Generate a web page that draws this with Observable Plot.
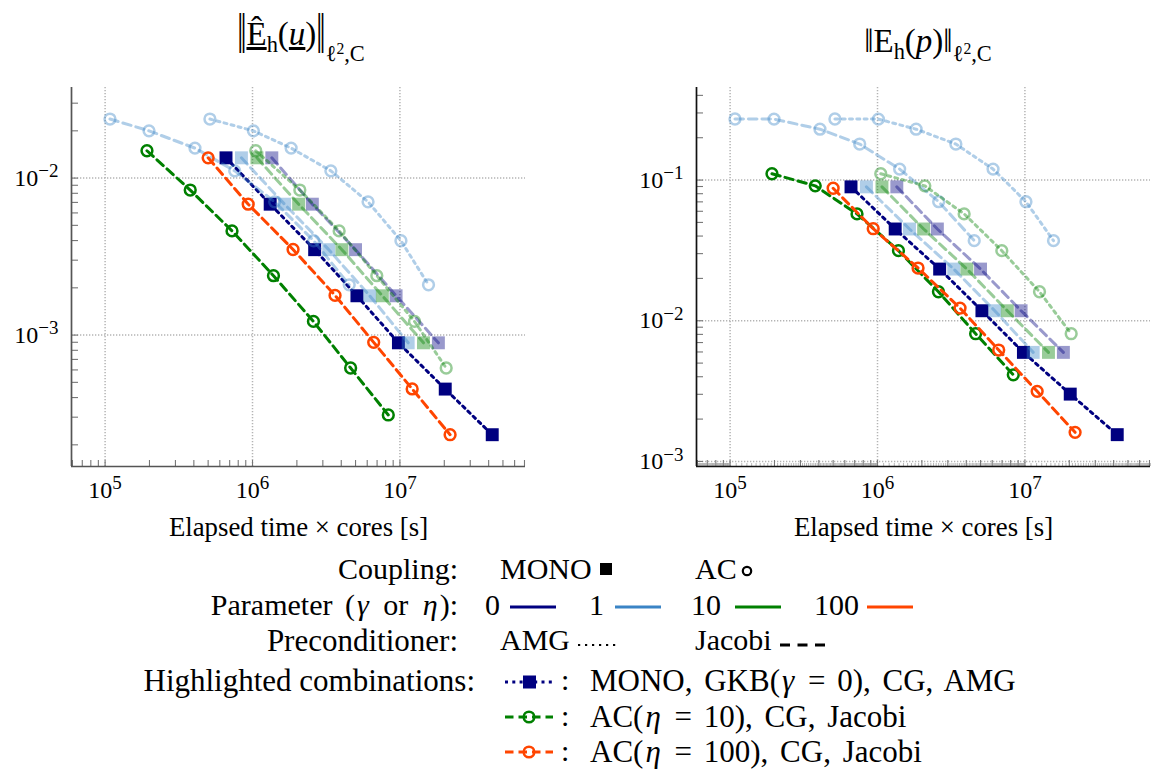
<!DOCTYPE html>
<html><head><meta charset="utf-8">
<script src="https://cdn.jsdelivr.net/npm/d3@7"></script>
<script src="https://cdn.jsdelivr.net/npm/@observablehq/plot@0.6"></script>
<style>
html,body{margin:0;padding:0;background:#fff;}
#root{position:relative;width:1157px;height:771px;overflow:hidden;font-family:"Liberation Serif",serif;color:#000;}
.panel{position:absolute;top:0;}
.title{position:absolute;font-size:33px;white-space:nowrap;line-height:1;transform:translateX(-50%);}
.lg{position:absolute;font-size:30px;white-space:nowrap;line-height:1;}
.lg.hl{font-size:31px;word-spacing:4px;}
.lg i{padding:0 2px;}
.ico{position:absolute;overflow:visible;}
.sb{font-size:0.68em;vertical-align:-0.32em;}
.sp{font-size:0.7em;vertical-align:0.45em;}
</style></head><body><div id="root"></div>
<script>
// ---------- data (elapsed time x cores [s] and errors per refinement level) ----------
const tMonoG0Amg = [6.61e5, 1.318e6, 2.64e6, 5.11e6, 9.77e6, 2.03e7, 4.23e7];
const tMonoG1Jac = [8.41e5, 1.648e6, 3.29e6, 6.24e6, 1.138e7];
const tMonoG10Jac = [1.072e6, 2.056e6, 4.04e6, 7.60e6, 1.445e7];
const tMonoG0Jac = [1.352e6, 2.547e6, 5.00e6, 9.42e6, 1.824e7];
const tAcE1Amg = [5.14e5, 1.014e6, 1.828e6, 3.40e6, 6.08e6, 1.016e7, 1.563e7];
const tAcE1Jac = [1.079e5, 1.986e5, 4.07e5, 7.57e5, 1.413e6, 2.60e6, 4.53e6];
const tAcE10Amg = [1.052e6, 2.094e6, 3.87e6, 6.97e6, 1.256e7, 2.06e7];
const tAcE10Jac = [1.923e5, 3.78e5, 7.26e5, 1.387e6, 2.59e6, 4.63e6, 8.34e6];
const tAcE100Jac = [5.00e5, 9.35e5, 1.884e6, 3.63e6, 6.64e6, 1.211e7, 2.19e7];

// velocity error ||E_h(u)||
const eUMono = [0.01346, 0.00682, 0.00350, 0.00178, 0.000893, 0.000453, 0.000232];
const eUAcE1 = [0.02377, 0.0200, 0.01552, 0.01112, 0.00706, 0.00399, 0.00209];
const eUAcE10 = [0.01493, 0.00839, 0.00461, 0.00239, 0.001222, 0.000617, 0.000310];
const eUAcE100 = [0.01346, 0.00682, 0.00351, 0.00179, 0.000899, 0.000454, 0.000232];
// pressure error ||E_h(p)||
const ePMono = [0.0895, 0.0449, 0.0233, 0.01178, 0.00596, 0.00301, 0.00155];
const ePAcE1 = [0.2716, 0.2712, 0.230, 0.1803, 0.1197, 0.0702, 0.0371];
const ePAcE10 = [0.1109, 0.0910, 0.0575, 0.0315, 0.01607, 0.00809, 0.00413];
const ePAcE100 = [0.0875, 0.0451, 0.0237, 0.0123, 0.00619, 0.00315, 0.00161];

const xTickValues = [1e5, 1e6, 1e7];
const yTickLeft = [1e-3, 1e-2];
const yTickRight = [1e-3, 1e-2, 1e-1];
const paramValues = [0, 1, 10, 100];
const paramLabels = ["0", "1", "10", "100"];

// ---------- styling tables ----------
const colors = {0: "#000080", 1: "#3a84c5", 10: "#008000", 100: "#ff4500"};
const FADE = 0.4;
const series = [
  {coupling: "MONO", param: 0, precond: "AMG", hl: true, t: tMonoG0Amg, eu: eUMono, ep: ePMono},
  {coupling: "MONO", param: 1, precond: "Jacobi", hl: false, t: tMonoG1Jac, eu: eUMono, ep: ePMono},
  {coupling: "MONO", param: 10, precond: "Jacobi", hl: false, t: tMonoG10Jac, eu: eUMono, ep: ePMono},
  {coupling: "MONO", param: 0, precond: "Jacobi", hl: false, t: tMonoG0Jac, eu: eUMono, ep: ePMono},
  {coupling: "AC", param: 1, precond: "AMG", hl: false, t: tAcE1Amg, eu: eUAcE1, ep: ePAcE1},
  {coupling: "AC", param: 1, precond: "Jacobi", hl: false, t: tAcE1Jac, eu: eUAcE1, ep: ePAcE1},
  {coupling: "AC", param: 10, precond: "AMG", hl: false, t: tAcE10Amg, eu: eUAcE10, ep: ePAcE10},
  {coupling: "AC", param: 10, precond: "Jacobi", hl: true, t: tAcE10Jac, eu: eUAcE10, ep: ePAcE10},
  {coupling: "AC", param: 100, precond: "Jacobi", hl: true, t: tAcE100Jac, eu: eUAcE100, ep: ePAcE100}
];

const ns = "http://www.w3.org/2000/svg";
const xDom = [Math.pow(10, 4.772), Math.pow(10, 7.852)];
const W = 454, H = 379, MT = 87, ML = 71, MB = 85;
const DOTTED = "3,4.3", DASHED = "8.5,5";

function powLabel(d) { return "10^" + Math.round(Math.log10(d)); }

function minorTicks(dom, steps) {
  const out = [];
  const lo = Math.floor(Math.log10(dom[0])), hi = Math.ceil(Math.log10(dom[1]));
  for (let d = lo; d <= hi; d++) for (const k of steps) {
    const v = k * Math.pow(10, d);
    if (v >= dom[0] && v <= dom[1]) out.push(v);
  }
  return out;
}

function panel({errKey, yDom, yTicks, spine, fine, mr}) {
  const marks = [];
  const gridStyle = {stroke: "#b4b4b4", strokeWidth: 1.5, strokeDasharray: "1.3,1.7"};
  marks.push(Plot.ruleX(xTickValues, gridStyle));
  marks.push(Plot.ruleY(yTicks.filter(v => v > yDom[0] * 1.02), gridStyle));
  // ticks (inward)
  const tickStyle = {stroke: "#777", strokeWidth: 1.1};
  marks.push(Plot.ruleX(minorTicks(xDom, [1,2,3,4,5,6,7,8,9]), {...tickStyle, insetTop: H - 6}));
  if (fine) {
    const fs = d3.range(11, 100).filter(k => k % 10 !== 0).map(k => k / 10);
    marks.push(Plot.ruleX(minorTicks(xDom, fs), {stroke: "#999", strokeWidth: 0.7, insetTop: H - 3}));
  }
  marks.push(Plot.ruleY(minorTicks(yDom, [1,2,3,4,5,6,7,8,9]), {...tickStyle, insetRight: W - 7}));
  // spines
  marks.push(Plot.ruleX([xDom[0]], {stroke: spine, strokeWidth: 1.7}));
  marks.push(Plot.ruleY([yDom[0]], {stroke: spine, strokeWidth: 1.7}));
  // data
  for (const s of series) {
    const rows = s.t.map((t, i) => ({t, e: s[errKey][i]}));
    const c = colors[s.param], op = s.hl ? 1 : FADE;
    marks.push(Plot.line(rows, {x: "t", y: "e", stroke: c, strokeOpacity: op, strokeWidth: 3,
      strokeDasharray: s.precond === "AMG" ? DOTTED : DASHED, strokeLinejoin: "round"}));
    if (s.coupling === "MONO")
      marks.push(Plot.dot(rows, {x: "t", y: "e", symbol: "square", r: 7.3, fill: c, fillOpacity: op}));
    else
      marks.push(Plot.dot(rows, {x: "t", y: "e", symbol: "circle", r: 5.4, stroke: c, strokeOpacity: op, strokeWidth: 2.5, fill: "none"}));
  }
  // axes
  marks.push(Plot.axisX({ticks: xTickValues, tickSize: 0, tickPadding: 14, tickFormat: powLabel, fontSize: 24, label: null}));
  marks.push(Plot.axisY({ticks: yTicks, tickSize: 0, tickPadding: 13, tickFormat: powLabel, fontSize: 24, label: null}));
  marks.push(Plot.text(["Elapsed time × cores [s]"], {frameAnchor: "bottom", dy: 61, fontSize: 26.8, lineAnchor: "middle"}));

  const svg = Plot.plot({
    width: ML + W + mr, height: MT + H + MB,
    marginLeft: ML, marginRight: mr, marginTop: MT, marginBottom: MB,
    x: {type: "log", domain: xDom},
    y: {type: "log", domain: yDom},
    style: {fontFamily: "'Liberation Serif', serif", fontSize: "24px", background: "transparent", overflow: "visible", color: "#000"},
    marks
  });
  svg.querySelectorAll('g[aria-label$="tick label"] text').forEach(t => {
    const s = t.textContent;
    if (!s.includes("^")) return;
    const [b, e] = s.split("^");
    t.textContent = "";
    const a = document.createElementNS(ns, "tspan"); a.textContent = b;
    const p = document.createElementNS(ns, "tspan"); p.textContent = e.replace("-", "\u2212");
    p.setAttribute("dy", "-0.45em"); p.setAttribute("style", "font-size:19px");
    t.append(a, p);
  });
  return svg;
}

const root = document.getElementById("root");
const left = panel({errKey: "eu", yDom: [Math.pow(10, -3.837), Math.pow(10, -1.423)], yTicks: yTickLeft, spine: "#555", fine: false, mr: 35});
left.classList.add("panel"); left.style.left = "0px"; root.append(left);
const right = panel({errKey: "ep", yDom: [Math.pow(10, -3.036), Math.pow(10, -0.342)], yTicks: yTickRight, spine: "#111", fine: true, mr: 7});
right.classList.add("panel"); right.style.left = "625px"; root.append(right);

// ---------- titles ----------
function addDiv(cls, html, css) {
  const d = document.createElement("div"); d.className = cls; d.innerHTML = html;
  Object.assign(d.style, css); root.append(d); return d;
}
const bigBar = '<span style="display:inline-block;transform:scaleY(1.75);">\u2016</span>';
addDiv("title", bigBar + '<span style="text-decoration:underline;">\u00CA</span><span class="sb">h</span>(<i style="text-decoration:underline;">u</i>)' + bigBar + '<span class="sb" style="vertical-align:-0.7em">\u2113<span class="sp">2</span>,C</span>', {left: "301px", top: "18px"});
addDiv("title", '\u2016E<span class="sb">h</span>(<i>p</i>)\u2016<span class="sb" style="vertical-align:-0.42em">\u2113<span class="sp">2</span>,C</span>', {left: "928px", top: "25px"});

// ---------- legend ----------
function lgText(html, x, yc, align, cls) {
  const css = {top: (yc - 16) + "px"};
  if (align === "right") css.right = (1157 - x) + "px"; else css.left = x + "px";
  return addDiv("lg" + (cls ? " " + cls : ""), html, css);
}
function icon(x, y, w, h, inner) {
  const s = document.createElementNS(ns, "svg");
  s.setAttribute("class", "ico"); s.setAttribute("width", w); s.setAttribute("height", h);
  s.style.left = x + "px"; s.style.top = y + "px"; s.innerHTML = inner; root.append(s);
}
// row 1
lgText("Coupling:", 458, 570, "right");
lgText("MONO", 500, 570);
icon(600, 563, 12, 12, '<rect x="0" y="0" width="12" height="12" fill="#000"/>');
lgText("AC", 695, 570);
icon(740, 564, 14, 14, '<circle cx="7" cy="7" r="4.2" fill="none" stroke="#000" stroke-width="2.2"/>');
// row 2
lgText('Parameter (<i>γ</i> or <i>η</i>):', 458, 606, "right").style.wordSpacing = "5px";
const pX = [485, 589, 691, 814], lX = [510, 615, 735, 867];
paramValues.forEach((p, i) => {
  lgText(paramLabels[i], pX[i], 606);
  icon(lX[i], 605, 46, 4, `<line x1="0" y1="2" x2="46" y2="2" stroke="${colors[p]}" stroke-width="3"/>`);
});
// row 3
lgText("Preconditioner:", 458, 641, "right").style.fontSize = "31px";
lgText("AMG", 500, 641);
icon(578, 643, 42, 4, `<line x1="0" y1="2" x2="42" y2="2" stroke="#000" stroke-width="2.2" stroke-dasharray="2.2,4.8"/>`);
lgText("Jacobi", 695, 641);
icon(780, 643, 48, 4, `<line x1="0" y1="2" x2="48" y2="2" stroke="#000" stroke-width="3" stroke-dasharray="10,7.5"/>`);
// highlighted
lgText("Highlighted combinations:", 475, 681, "right", "hl").style.wordSpacing = "0px";
icon(505, 674, 50, 16, `<line x1="0" y1="8" x2="48" y2="8" stroke="${colors[0]}" stroke-width="3" stroke-dasharray="${DOTTED}"/><rect x="18" y="1.5" width="13" height="13" fill="${colors[0]}"/>`);
lgText(":", 561, 681);
lgText('MONO, GKB(<i>γ</i> = 0), CG, AMG', 590, 681, null, "hl");
icon(505, 709, 50, 16, `<line x1="0" y1="8" x2="48" y2="8" stroke="${colors[10]}" stroke-width="3" stroke-dasharray="${DASHED}"/><circle cx="24" cy="8" r="5.3" fill="none" stroke="${colors[10]}" stroke-width="2.5"/>`);
lgText(":", 561, 717);
lgText('AC(<i>η</i> = 10), CG, Jacobi', 590, 717, null, "hl");
icon(505, 744, 50, 16, `<line x1="0" y1="8" x2="48" y2="8" stroke="${colors[100]}" stroke-width="3" stroke-dasharray="${DASHED}"/><circle cx="24" cy="8" r="5.3" fill="none" stroke="${colors[100]}" stroke-width="2.5"/>`);
lgText(":", 561, 752);
lgText('AC(<i>η</i> = 100), CG, Jacobi', 590, 752, null, "hl");
</script></body></html>
